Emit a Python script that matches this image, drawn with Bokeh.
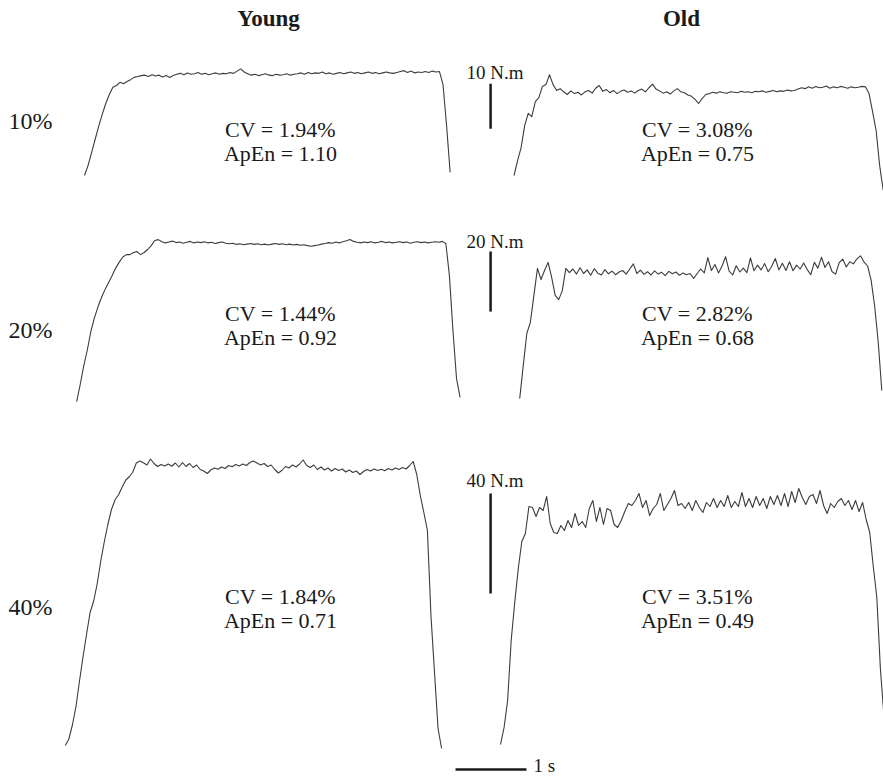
import numpy as np
from bokeh.plotting import figure
from bokeh.models import Range1d, Label
from bokeh.embed import file_html
from bokeh.resources import INLINE

# ---------------- data ----------------
GROUPS = ["Young", "Old"]
ROW_LABELS = ["10%", "20%", "40%"]
CV_YOUNG = [1.94, 1.44, 1.84]
APEN_YOUNG = [1.10, 0.92, 0.71]
CV_OLD = [3.08, 2.82, 3.51]
APEN_OLD = [0.75, 0.68, 0.49]
SCALE_NM = [10, 20, 40]
TIME_BAR_S = 1

DT = 0.05  # sampling interval of the torque traces (s)

# torque (N.m) sampled every DT seconds, starting at *_T0 seconds
YOUNG10_T0 = 0.07
YOUNG10 = [0.0, 2.2, 5.1, 8.0, 10.9, 13.6, 16.0, 18.0, 19.6, 20.0, 20.7, 20.4, 20.9, 21.3, 21.8, 22.0, 22.2,
           22.3, 22.0, 22.4, 22.1, 22.3, 21.9, 22.2, 21.8,
           22.2, 22.5, 22.7, 22.4, 22.8, 22.5, 22.6, 22.9, 22.5, 22.7, 22.4, 22.6, 22.8, 22.5, 22.7, 22.6, 22.9, 22.7,
           23.2, 23.7, 23.0, 22.6,
           22.3, 22.5, 22.2, 22.4, 22.6, 22.3, 22.2, 22.5, 22.3, 22.4, 22.6, 22.3, 22.5,
           22.6, 22.8, 22.5, 22.9, 22.6, 22.8, 22.7, 23.0, 22.6, 22.8, 22.5, 22.7, 22.9, 22.6, 22.8, 23.0,
           22.7, 22.9, 22.6, 22.8, 23.0, 22.7, 22.9, 22.6, 22.8, 23.0, 22.8, 22.7,
           22.9, 23.1, 23.3, 22.9, 23.2,
           22.8, 23.0, 22.9, 23.1, 22.9, 23.2, 23.0,
           23.1, 20.2, 11.1, 0.7]

OLD10_T0 = 0.12
OLD10 = [0.0, 3.3, 6.2, 11.1, 13.8, 13.1, 16.4, 17.3, 19.8, 20.2, 22.4, 20.2, 18.9, 19.3,
         18.6, 18.0, 18.8, 18.2, 18.5, 17.9, 18.6, 18.9, 18.3, 19.4, 20.0, 18.7, 19.1, 18.4, 18.9, 18.2,
         18.7, 19.0, 18.5, 18.8, 18.3, 18.9, 19.2, 18.6, 19.5, 20.3, 19.2, 18.8, 18.3, 18.6, 18.1, 18.8,
         19.3, 18.6, 18.4, 17.9,
         17.6, 16.9, 16.0, 17.1, 18.0,
         18.2, 18.5, 18.3, 18.6, 18.4, 18.3, 18.6, 18.5, 18.4, 18.7, 18.5, 18.6, 18.4, 18.7, 18.6, 18.8,
         18.5, 18.7, 18.9, 18.6, 18.8, 18.7, 19.0, 18.8, 18.9,
         19.2, 19.5, 19.3, 19.7, 19.4, 19.8, 19.5, 19.6, 19.9, 19.4, 19.7, 19.5, 19.8, 19.6, 19.4, 19.7,
         19.5, 19.6, 19.8, 19.7,
         18.2, 14.2, 10.0, 2.2, -3.3]

YOUNG20_T0 = -0.04
YOUNG20 = [0.3, 6.0, 12.2, 17.5, 23.7, 28.2, 31.9, 35.0, 37.7, 40.0, 42.3, 44.8, 46.8, 48.5, 49.3, 49.3,
           50.0, 50.3, 49.3, 50.0, 51.0, 52.3, 54.0, 54.3,
           53.6, 53.2, 53.5, 53.8, 53.3, 53.5, 53.1, 53.4, 53.7, 53.2, 53.5, 53.3, 53.6, 53.2, 53.4, 53.0,
           53.3, 53.5, 53.1,
           52.9, 53.1, 52.7, 52.9, 52.6, 52.8, 53.0, 52.7, 52.9, 52.6, 52.8, 52.5, 52.8, 53.0, 52.7, 52.9,
           52.6, 52.8, 52.5, 52.7, 52.4, 52.6, 52.3, 52.1, 52.3, 52.5, 52.8,
           53.0, 53.3, 53.1, 53.5, 53.2, 53.6, 53.9, 54.3, 53.7, 53.4,
           53.2, 53.5, 53.3, 53.6, 53.2, 53.4, 53.7, 53.3, 53.5, 53.2, 53.4, 53.6, 53.3, 53.5, 53.1, 53.4,
           53.6, 53.3, 53.5, 53.2, 53.4, 53.6, 53.4, 53.7,
           53.0, 42.3, 24.0, 8.0, 1.7]

OLD20_T0 = 0.20
OLD20 = [1.3, 12.3, 23.0, 26.7, 35.7, 44.7, 41.0, 44.0, 46.7, 41.7, 35.7, 34.3, 37.3, 44.7, 43.3,
         44.5, 42.8, 44.9, 43.0, 44.2, 42.4, 44.6, 43.1, 42.5, 44.3, 42.9, 43.8, 42.6, 43.5, 44.0, 42.8,
         44.5, 46.2, 43.0, 44.1, 42.7, 43.6, 42.5, 43.9, 42.8, 43.4, 42.3, 43.7, 42.9, 43.5, 42.4, 43.2,
         42.6, 43.0, 41.4,
         43.0, 44.5, 43.2, 48.3, 44.0, 46.0, 43.2, 45.5, 48.6, 43.8, 42.5, 45.6, 43.5, 44.8, 43.3, 48.2,
         43.9, 45.8, 44.2, 46.3, 43.6, 45.4, 48.0, 44.2, 46.4, 44.0, 46.9, 43.9, 45.8, 44.5, 46.5, 44.3,
         42.6, 46.7, 44.8, 48.4, 45.0, 46.9, 43.6, 42.8, 46.6, 47.8, 45.2, 46.9, 46.2, 47.9, 48.9, 46.8,
         45.5, 40.7, 32.0, 20.0, 4.0]

YOUNG40_T0 = -0.20
YOUNG40 = [0.4, 3.0, 8.6, 15.9, 26.2, 36.0, 45.0, 53.7, 58.2, 65.2, 74.3, 82.0, 88.9, 94.8, 98.6,
           100.7, 103.7, 106.5, 107.9, 109.7, 113.4, 114.2,
           113.5, 112.6, 115.0, 113.2, 112.0, 112.8, 112.2, 113.0, 112.1, 113.4, 111.8, 113.6, 112.0,
           113.2, 111.6, 112.6, 110.8, 110.2, 109.2, 110.6, 111.4, 110.9, 111.8, 111.2, 112.4, 111.9,
           112.8, 112.2, 113.0, 112.4, 113.6, 114.2, 113.4, 112.6, 113.2, 112.0, 112.6, 110.8, 109.4,
           110.4, 112.0, 111.4, 112.6, 111.8, 113.0, 114.6, 112.4, 111.6, 112.6, 110.8, 111.8, 110.6,
           111.4, 110.2, 111.2, 110.4, 111.0, 109.8, 110.6, 109.6, 110.2, 108.8, 110.0, 110.8, 110.2,
           111.0, 110.4, 110.9, 110.3, 111.2, 110.6, 111.4, 110.8, 111.6, 111.0, 112.4, 114.0,
           108.8, 100.4, 93.6, 86.4, 52.4, 29.6, 7.2, -0.8]

OLD40_T0 = -0.07
OLD40 = [0.8, 7.6, 18.4, 42.4, 57.6, 71.2, 82.0, 85.2, 96.0, 95.6, 92.0, 95.6, 94.4, 100.0,
         89.2, 85.6, 85.2, 88.4, 86.4, 90.4, 87.6, 93.2, 88.4, 90.0, 87.6, 95.2, 98.4, 90.0, 95.6, 88.8,
         95.2, 94.4, 88.8, 87.6, 90.4, 94.0, 97.2, 96.4, 98.4, 101.2, 95.6, 98.4, 92.4, 95.2, 96.8,
         101.2, 94.4, 96.8, 99.2, 102.4, 96.4, 97.2, 95.2, 97.6, 94.4, 98.4, 95.6, 93.6, 97.6, 96.0,
         99.2, 95.6, 98.4, 96.0, 100.4, 95.6, 98.0, 96.0, 101.6, 96.0, 99.2, 95.6, 100.0, 96.4, 99.2,
         95.2, 100.0, 96.8, 100.4, 96.4, 101.2, 96.0, 102.0, 97.6, 103.2, 99.6, 96.8, 100.0, 100.8,
         97.2, 102.4, 96.4, 93.2, 97.2, 95.6, 98.0, 99.2, 96.4, 98.4, 94.8, 98.4, 94.0, 97.6,
         90.8, 85.6, 72.0, 59.6, 31.2, 12.4]

TRACES = [  # (row index, group, start time, torque samples)
    (0, "Young", YOUNG10_T0, YOUNG10), (0, "Old", OLD10_T0, OLD10),
    (1, "Young", YOUNG20_T0, YOUNG20), (1, "Old", OLD20_T0, OLD20),
    (2, "Young", YOUNG40_T0, YOUNG40), (2, "Old", OLD40_T0, OLD40),
]

# ---------------- layout ----------------
W, H = 883, 777
PX_PER_S = 71.0
X_START = -79.0 / PX_PER_S           # seconds at the left edge
OLD_OFFSET = 6.0                     # horizontal shift of the "Old" column (s)
ROW_BASE_PX = [175, 402, 746]        # pixel (from top) of 0 N.m in each row
ROW_PX_PER_NM = [4.5, 3.0, 2.5]
ROW_NAMES = ["r10", "r20", "r40"]

FONT = "Liberation Serif"
TRACE_COLOR = "#3c3c3c"
INK = "#1a1a1a"

p = figure(width=W, height=H, output_backend="svg", toolbar_location=None,
           x_range=Range1d(X_START, X_START + W / PX_PER_S),
           y_range=Range1d(0, 1), x_axis_type=None, y_axis_type=None,
           min_border=0, outline_line_color=None)
p.grid.visible = False

ranges = {}
for name, base, s in zip(ROW_NAMES, ROW_BASE_PX, ROW_PX_PER_NM):
    end = base / s
    ranges[name] = Range1d(end - H / s, end)
p.extra_y_ranges = ranges

# traces
for row, grp, t0, vals in TRACES:
    t = t0 + DT * np.arange(len(vals))
    x = t + (OLD_OFFSET if grp == "Old" else 0.0)
    p.line(x, vals, y_range_name=ROW_NAMES[row], line_color=TRACE_COLOR,
           line_width=1.1, line_join="round")

# vertical scale bars (N.m)
BAR_X = 5.79
BAR_BOTTOMS = [10.4, 30.3, 61.2]
for row, (nm, b) in enumerate(zip(SCALE_NM, BAR_BOTTOMS)):
    p.line([BAR_X, BAR_X], [b, b + nm], y_range_name=ROW_NAMES[row],
           line_color=INK, line_width=2.5)

# horizontal time bar (1 s)
TB_X0 = 5.296
p.line([TB_X0, TB_X0 + TIME_BAR_S], [-9.2, -9.2], y_range_name="r40",
       line_color=INK, line_width=2.5)


def lab(text, X, Y, size="22px", align="center", style="normal"):
    p.add_layout(Label(x=X, y=H - Y, x_units="screen", y_units="screen",
                       text=text, text_font=FONT, text_font_size=size,
                       text_font_style=style, text_color=INK,
                       text_align=align, text_baseline="middle"))


# column titles
lab(GROUPS[0], 268, 18, size="23px", style="bold")
lab(GROUPS[1], 681, 18, size="23px", style="bold")

# row labels
for txt, Y in zip(ROW_LABELS, [120, 329, 606]):
    lab(txt, 8, Y, size="24px", align="left")

# statistics
STAT_Y = [(129, 153), (313, 337), (596, 620)]
for i, (y1, y2) in enumerate(STAT_Y):
    lab(f"CV = {CV_YOUNG[i]:.2f}%", 280, y1)
    lab(f"ApEn = {APEN_YOUNG[i]:.2f}", 280, y2)
    lab(f"CV = {CV_OLD[i]:.2f}%", 697, y1)
    lab(f"ApEn = {APEN_OLD[i]:.2f}", 697, y2)

# scale bar labels
for nm, Y in zip(SCALE_NM, [72, 241, 480]):
    lab(f"{nm} N.m", 466, Y, size="19px", align="left")
lab(f"{TIME_BAR_S} s", 533, 765, size="19px", align="left")

open("out.html", "w").write(file_html(p, INLINE))
